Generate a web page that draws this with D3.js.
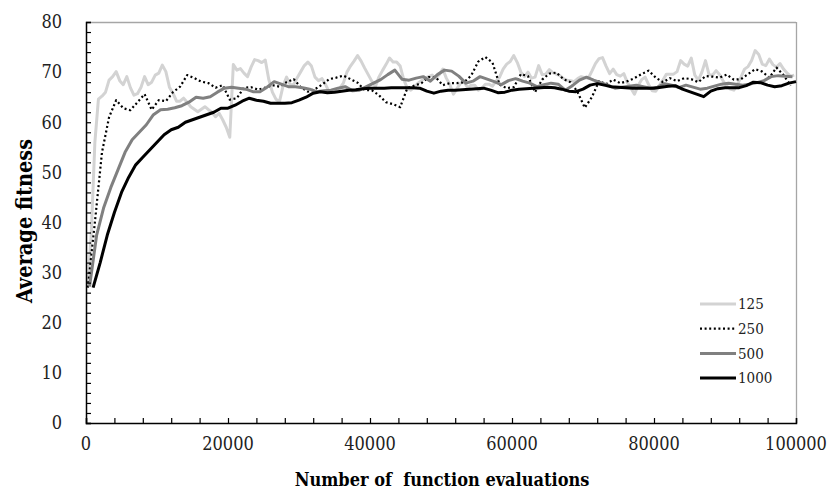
<!DOCTYPE html>
<html><head><meta charset="utf-8">
<script src="https://cdn.jsdelivr.net/npm/d3@7/dist/d3.min.js"></script>
<style>body{margin:0;background:#fff}svg{display:block}
svg text{font-family:"DejaVu Serif Condensed","DejaVu Serif",serif;font-stretch:condensed;}
</style>
</head><body>
<svg id="c" width="830" height="489"></svg>
<script>
// ---- data ----
const seriesNames = ["125","250","500","1000"];
const xStart = {"125":250,"250":250,"500":500,"1000":1000};
const xStep  = {"125":500,"250":1000,"500":1000,"1000":1000};
const s125 = [27,38,56,64.6,65.2,66,68.4,69.1,70.1,68.3,67.5,69.1,66.9,65.4,65.7,67,69.1,67.5,68,69.4,
69.8,71.4,70.1,67,65.8,64.2,64.2,64.8,64,63.1,62.6,62.1,62.6,63.1,62.5,62,61.1,61.8,60.5,59,
57,71.5,70.4,70.7,69.8,69.1,71,72.5,72.3,71.9,72.4,68.5,66,64.6,64.1,67.2,69,67.5,67.5,68.9,
70.1,71.3,72,71.2,69,68.3,68.7,67.5,66,66.1,66.5,66.8,67.8,70,71.2,72.2,73.3,72.2,70.8,69.5,
68.2,67.1,69,70.3,71.5,72.8,72,72,71.2,68.5,66.8,66.4,67,67.8,68.3,68.8,69.1,69.4,68.8,69.5,
70.6,68.8,67.5,65.6,66.7,67.8,68.1,66.9,67.4,67.4,66.4,66.8,67.6,67.6,67.2,68.2,69,70.6,71.6,72.1,
73.3,71.9,70,69.1,70,68.8,69,71.3,69.5,69.6,70.5,69.9,69.6,69.3,68.7,68.4,68.3,68.1,68.7,69.1,
68.9,68.8,70.2,71.7,72.7,72.9,71.2,69.7,70.6,69.5,69.2,69.7,67.9,66.8,65.6,67.3,68.5,69,67.5,66.3,
66.2,67.3,68.4,69.6,69.6,69.6,70.1,72.3,71.6,71.2,72.8,69.4,68.4,70,72.3,69.5,69.4,70.3,69.5,68.2,
67.2,66.6,66.4,67.5,69,70.6,71.1,72.3,74.3,73.5,71.6,71.3,72.6,71.5,71,71.7,70.6,69.8,69.2,69.4];
const s250 = [27,40,54,61,64.4,62.8,62.4,64,65.6,62.5,64.4,64.2,66,67.1,69.4,68.8,68.1,67.8,66.9,67.4,
64.5,64.8,66.9,67,66.5,66.9,67.4,67.1,68,68.6,67,66.1,66.6,67.5,68.6,68.9,69.3,68.6,67.9,66.4,
66.4,65.4,64,63.6,63,66.8,67.3,67.8,69,69,67.4,67.8,67.8,68,69.3,72.1,73,71.9,67.5,66.8,
67,69.6,69.2,66,68.5,69.7,69.9,68.6,68,66,62.9,65,68.2,67.6,68.5,67.8,68.2,68.8,69.6,70.3,
68.9,68,68.8,68.2,68.8,68.6,68,69.2,69.1,68.9,69.5,68.5,68.6,69.6,70.6,70.1,68.9,70.9,69.4,67.3];
const s500 = [27.2,37.5,43,47,50.5,54,56.5,58,59.5,61.5,62.5,62.6,62.9,63.3,64,65,64.8,65.1,66,66.8,
67,66.8,66.6,66.1,66.1,67,68.1,67.6,67.1,67.1,66.9,66.6,66.1,66.3,66.4,66.8,67.1,66.3,66.4,67.1,
67.8,68.5,69.5,70.4,68.6,68.4,68.8,69.1,68.2,69.5,70.4,70.2,69.2,67.8,68.2,69.1,68.6,68.1,67.5,68.3,
68.7,68.2,67.8,67.1,67.5,67.8,67.6,66.4,67.3,68.4,69,68.4,67.9,67.4,66.8,67,67.2,67.4,67.1,66.8,
67,67.7,67.4,66.9,67.4,67,66.6,66.8,67.2,67.6,67.8,67.6,67.4,67.6,67.9,68.3,69.1,69.3,69.2,69.1];
const s1000 = [27,32,37.5,42,46,49,51.5,53,54.5,56,57.5,58.5,59,60,60.5,61,61.5,62,62.8,62.8,
63.4,64.2,64.8,64.4,64.2,63.8,63.8,63.8,63.9,64.4,65,65.8,66.1,65.9,66,66.2,66.4,66.5,66.7,66.8,
66.8,66.8,66.9,66.9,66.9,66.9,66.8,66.2,65.8,66.2,66.4,66.4,66.5,66.6,66.7,66.8,66.4,65.9,66,66.4,
66.6,66.7,66.8,66.9,67,66.9,66.6,66.2,66.1,66.6,67.4,67.7,67.4,67.1,67,66.9,66.8,66.8,66.8,66.8,
67,67.2,67.3,66.6,66.1,65.6,65.1,66.2,66.7,66.9,66.9,66.9,67.3,68,67.9,67.4,67.1,67.3,67.8,68.1];
const seriesValues = {"125":s125,"250":s250,"500":s500,"1000":s1000};
const yTickLabels = [0,10,20,30,40,50,60,70,80];
const xTickLabels = [0,20000,40000,60000,80000,100000];

// ---- styles ----
const styles = {
  "125":{stroke:"#d3d3d3",width:3,dash:null},
  "250":{stroke:"#000",width:2.2,dash:"2,2.6"},
  "500":{stroke:"#808080",width:3,dash:null},
  "1000":{stroke:"#000",width:3,dash:null}
};
const L=86,R=796,T=22,B=423;
const svg=d3.select("#c");
const x=d3.scaleLinear().domain([0,100000]).range([L,R]);
const y=d3.scaleLinear().domain([0,80]).range([B,T]);

// frame top/right
svg.append("line").attr("x1",L).attr("x2",R).attr("y1",T+0.5).attr("y2",T+0.5).attr("stroke","#a6a6a6").attr("stroke-width",1.3);
svg.append("line").attr("x1",R+0.5).attr("x2",R+0.5).attr("y1",T).attr("y2",B).attr("stroke","#a6a6a6").attr("stroke-width",1.3);

// lines
const line=d3.line().x(d=>x(d[0])).y(d=>y(d[1]));
seriesNames.forEach(n=>{
  const pts=seriesValues[n].map((v,i)=>[xStart[n]+i*xStep[n],v]).filter(d=>d[0]<=100000);
  const st=styles[n];
  const p=svg.append("path").datum(pts).attr("d",line).attr("fill","none")
    .attr("stroke",st.stroke).attr("stroke-width",st.width).attr("stroke-linejoin","round");
  if(st.dash) p.attr("stroke-dasharray",st.dash);
});

// axes
const yAxis=d3.axisRight(y).tickValues(d3.range(0,81,2)).tickSize(5).tickFormat("");
const gy=svg.append("g").attr("transform",`translate(${L},0)`).call(yAxis);
gy.select(".domain").attr("stroke","#000").attr("stroke-width",1.5);
gy.selectAll(".tick line").attr("stroke","#000").attr("stroke-width",1.2);
const xAxis=d3.axisTop(x).tickValues(d3.range(0,100001,4000)).tickSize(5).tickFormat("");
const gx=svg.append("g").attr("transform",`translate(0,${B})`).call(xAxis);
gx.select(".domain").attr("stroke","#000").attr("stroke-width",1.5);
gx.selectAll(".tick line").attr("stroke","#000").attr("stroke-width",1.2);

// tick labels
svg.append("g").selectAll("text").data(yTickLabels).join("text")
  .attr("x",62).attr("y",d=>y(d)).attr("dy","0.35em").attr("text-anchor","end")
  .attr("font-size",18).attr("fill","#222").text(d=>d);
svg.append("g").selectAll("text").data(xTickLabels).join("text")
  .attr("x",d=>x(d)).attr("y",450).attr("text-anchor","middle")
  .attr("font-size",18).attr("fill","#222").text(d=>d);

// titles
svg.append("text").attr("x",442).attr("y",486).attr("text-anchor","middle")
  .attr("font-size",18).attr("font-weight","bold")
  .style("white-space","pre").text("Number of  function evaluations");
svg.append("text").attr("transform","translate(32,221) rotate(-90)").attr("text-anchor","middle")
  .attr("font-size",21.5).attr("font-weight","bold").text("Average fitness");

// legend
const lg=svg.append("g");
seriesNames.forEach((n,i)=>{
  const yy=304+i*24.7;
  const st=styles[n];
  const l=lg.append("line").attr("x1",700).attr("x2",736).attr("y1",yy).attr("y2",yy)
    .attr("stroke",st.stroke).attr("stroke-width",st.width);
  if(st.dash) l.attr("stroke-dasharray",st.dash);
  lg.append("text").attr("x",738).attr("y",yy).attr("dy","0.35em")
    .attr("font-size",15).attr("fill","#222").text(n);
});
</script>
</body></html>
